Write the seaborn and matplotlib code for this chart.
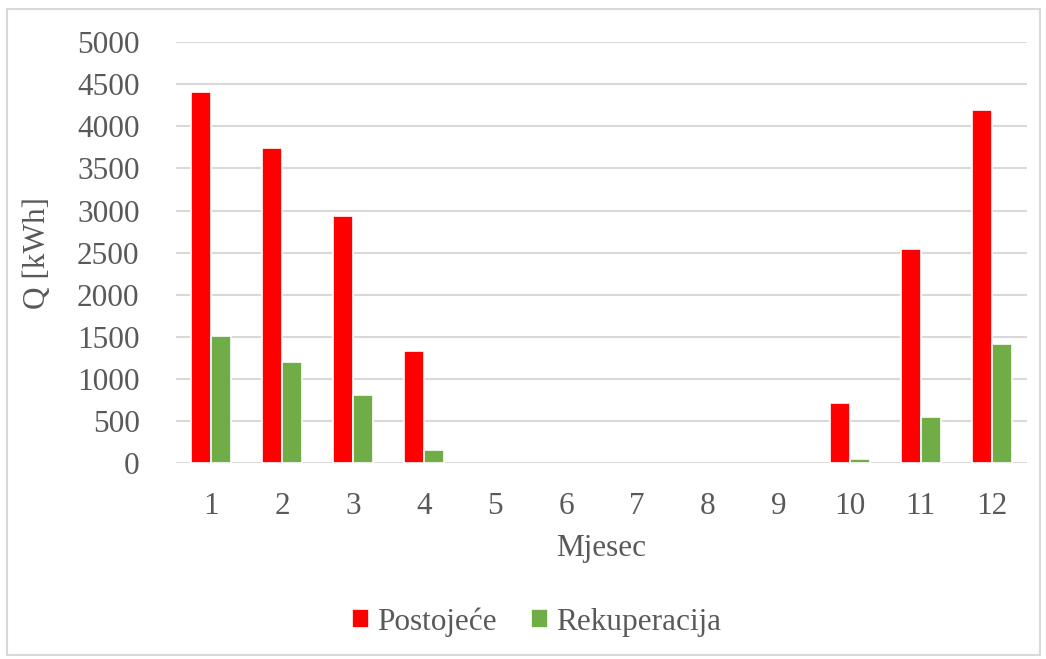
import numpy as np
import pandas as pd
import matplotlib
matplotlib.use("Agg")
import matplotlib.pyplot as plt
import seaborn as sns
from matplotlib.patches import Rectangle

months = ["1", "2", "3", "4", "5", "6", "7", "8", "9", "10", "11", "12"]
postojece = [4410, 3740, 2940, 1330, 0, 0, 0, 0, 0, 712, 2540, 4200]
rekuperacija = [1505, 1195, 805, 158, 0, 0, 0, 0, 0, 45, 542, 1415]
series_names = ["Postojeće", "Rekuperacija"]
y_ticks = [0, 500, 1000, 1500, 2000, 2500, 3000, 3500, 4000, 4500, 5000]

df = pd.DataFrame({
    "Mjesec": months * 2,
    "Q": postojece + rekuperacija,
    "Serija": [series_names[0]] * 12 + [series_names[1]] * 12,
})

sns.set_theme(style="white")
plt.rcParams['font.family'] = ['Liberation Serif', 'DejaVu Serif']

fig = plt.figure(figsize=(10.46, 6.59), dpi=100)
ax = fig.add_axes([0.168, 0.2974, 0.814, 0.6386])

sns.barplot(data=df, x="Mjesec", y="Q", hue="Serija", order=months,
            hue_order=series_names, palette=["#ff0000", "#70ad47"],
            width=0.56, edgecolor="white", linewidth=1.2, saturation=1,
            ax=ax, legend=True, zorder=3)

for cont in ax.containers:
    for p in cont:
        if p.get_height() == 0:
            p.set_visible(False)

fs = 22.5
ax.set_ylim(0, 5000)
ax.set_yticks(y_ticks)
ax.set_xlim(-0.5, 11.5)
ax.yaxis.grid(True, color="#d9d9d9", linewidth=1.5, zorder=0)
ax.set_axisbelow(True)
for s in ax.spines.values():
    s.set_visible(False)
ax.tick_params(axis="both", length=0, labelsize=fs, labelcolor="#595959")
ax.tick_params(axis="x", pad=21)
ax.tick_params(axis="y", pad=26)
ax.set_xlabel("Mjesec", fontsize=fs, color="#595959", labelpad=9)
ax.set_ylabel("Q [kWh]", fontsize=fs, color="#595959", labelpad=18)

handles, labels = ax.get_legend_handles_labels()
ax.legend_.remove()
fig.legend(handles, labels, loc="center", bbox_to_anchor=(0.513, 0.056),
           ncol=2, frameon=False, fontsize=fs, labelcolor="#595959",
           handlelength=0.55, handleheight=0.55, handletextpad=0.25,
           columnspacing=1.1)

fig.patches.append(Rectangle((0.0067, 0.006), 0.988, 0.98, transform=fig.transFigure,
                             fill=False, edgecolor="#d9d9d9", linewidth=1.5))

fig.savefig("out.png", dpi=100)
